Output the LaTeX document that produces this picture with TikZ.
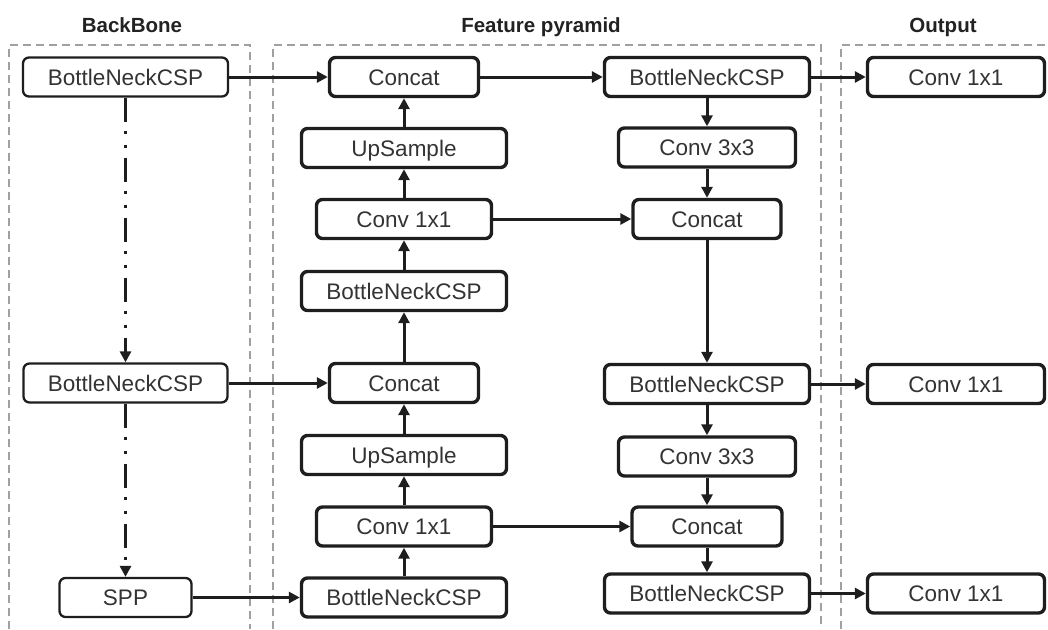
\documentclass[tikz,border=0pt]{standalone}
\usepackage{fontspec}
\setmainfont{Liberation Sans}
\usetikzlibrary{arrows.meta}
\definecolor{linec}{HTML}{1E1E1E}
\definecolor{txtc}{HTML}{333333}
\definecolor{grpc}{HTML}{A0A0A0}
\definecolor{ttlc}{HTML}{222222}
\tikzset{
  boxbase/.style={draw=linec, rounded corners=6pt, minimum height=39pt, inner sep=0pt,
    text height=16pt, text depth=0pt, text=txtc, font=\fontsize{22.5}{27}\selectfont, fill=white},
  pbox/.style={boxbase, line width=3.4pt},
  bbox/.style={boxbase, line width=2.3pt},
  ar/.style={draw=linec, line width=3pt, -{Triangle[length=11pt,width=11pt]}},
  ddar/.style={ar, dash pattern=on 24pt off 9pt on 3pt off 11pt on 3pt off 10pt},
  grp/.style={draw=grpc, line width=2pt, dash pattern=on 8pt off 5pt},
  ttl/.style={font=\fontsize{20.5}{24}\selectfont\bfseries, text=ttlc, anchor=base, inner sep=0pt}
}
\begin{document}
\begin{tikzpicture}[x=1pt,y=-1pt]
\useasboundingbox (0,0) rectangle (1048,629);
% group frames
\draw[grp] (9,629) -- (9,45) -- (250,45) -- (250,629);
\draw[grp] (273,629) -- (273,45) -- (821,45) -- (821,629);
\draw[grp] (841,629) -- (841,45) -- (1060,45);
% titles
\node[ttl] (t1) at (132,32) {BackBone};
\node[ttl] (t2) at (541,32) {Feature pyramid};
\node[ttl] (t3) at (943,32) {Output};
% backbone
\node[bbox, minimum width=205pt] (bb1) at (125.5,77) {BottleNeckCSP};
\node[bbox, minimum width=204pt] (bb2) at (125.5,383) {BottleNeckCSP};
\node[bbox, minimum width=132pt] (spp) at (125.5,597.5) {SPP};
% pyramid left
\node[pbox, minimum width=149pt] (cat1) at (404,77) {Concat};
\node[pbox, minimum width=205pt] (up1) at (404,148) {UpSample};
\node[pbox, minimum width=175pt] (cv1) at (404,219) {Conv 1x1};
\node[pbox, minimum width=205pt] (bn1) at (404,291) {BottleNeckCSP};
\node[pbox, minimum width=149pt] (cat2) at (404,383) {Concat};
\node[pbox, minimum width=205pt] (up2) at (404,455) {UpSample};
\node[pbox, minimum width=175pt] (cv2) at (404,526.5) {Conv 1x1};
\node[pbox, minimum width=205pt] (bn2) at (404,597.5) {BottleNeckCSP};
% pyramid right
\node[pbox, minimum width=205pt] (bn3) at (707,77) {BottleNeckCSP};
\node[pbox, minimum width=177pt] (c3a) at (707,147.5) {Conv 3x3};
\node[pbox, minimum width=148pt] (cat3) at (707,219) {Concat};
\node[pbox, minimum width=205pt] (bn4) at (707,384) {BottleNeckCSP};
\node[pbox, minimum width=177pt] (c3b) at (707,456.5) {Conv 3x3};
\node[pbox, minimum width=150pt] (cat4) at (707,526.5) {Concat};
\node[pbox, minimum width=205pt] (bn5) at (707,593.5) {BottleNeckCSP};
% output
\node[pbox, minimum width=177pt] (o1) at (956,77) {Conv 1x1};
\node[pbox, minimum width=177pt] (o2) at (956,384) {Conv 1x1};
\node[pbox, minimum width=177pt] (o3) at (956,593.5) {Conv 1x1};
% backbone links
\draw[ddar] (bb1) -- (bb2);
\draw[ddar] (bb2) -- (spp);
\draw[ar] (bb1) -- (cat1);
\draw[ar] (bb2) -- (cat2);
\draw[ar] (spp) -- (spp -| bn2.west);
% left column
\draw[ar] (bn2) -- (cv2);
\draw[ar] (cv2) -- (up2);
\draw[ar] (up2) -- (cat2);
\draw[ar] (cat2) -- (bn1);
\draw[ar] (bn1) -- (cv1);
\draw[ar] (cv1) -- (up1);
\draw[ar] (up1) -- (cat1);
% top to right
\draw[ar] (cat1) -- (bn3);
\draw[ar] (bn3) -- (c3a);
\draw[ar] (c3a) -- (cat3);
\draw[ar] (cv1) -- (cat3);
\draw[ar] (cat3) -- (bn4);
\draw[ar] (bn4) -- (c3b);
\draw[ar] (c3b) -- (cat4);
\draw[ar] (cv2) -- (cat4);
\draw[ar] (cat4) -- (bn5);
% outputs
\draw[ar] (bn3) -- (o1);
\draw[ar] (bn4) -- (o2);
\draw[ar] (bn5) -- (o3);
\end{tikzpicture}
\end{document}
